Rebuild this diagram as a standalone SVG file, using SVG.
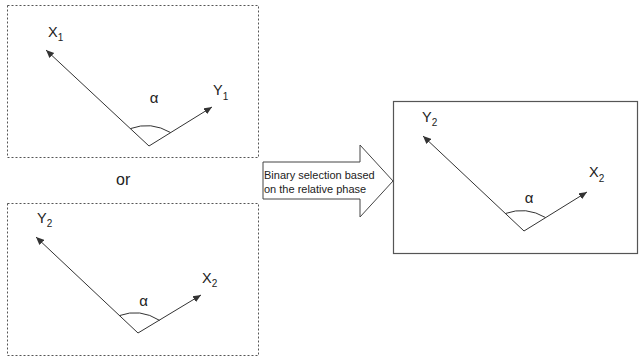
<svg xmlns="http://www.w3.org/2000/svg" width="640" height="360" viewBox="0 0 640 360">
<defs>
<marker id="ah" markerUnits="userSpaceOnUse" markerWidth="10" markerHeight="8" refX="8" refY="4" orient="auto">
<path d="M0,0.5 L8,4 L0,7.5 Z" fill="#333"/>
</marker>
<style>
.dbox{fill:none;stroke:#555;stroke-width:1;stroke-dasharray:2,2}
.sbox{fill:none;stroke:#555;stroke-width:1.2}
.vec{stroke:#333;stroke-width:1;fill:none;marker-end:url(#ah)}
.arc{stroke:#333;stroke-width:1;fill:none}
.lbl{font-family:"Liberation Sans",Arial,sans-serif;font-size:14.5px;fill:#222}
.sub{font-size:10px}
.al{font-family:"Liberation Sans",Arial,sans-serif;font-size:15px;fill:#222;text-anchor:middle}
.bt{font-family:"Liberation Sans",Arial,sans-serif;font-size:11px;fill:#222}
</style>
</defs>
<rect width="640" height="360" fill="#fff"/>
<g id="box1">
<rect class="dbox" x="7.5" y="5.5" width="251" height="152"/>
<line class="vec" x1="149" y1="146" x2="46" y2="50"/>
<line class="vec" x1="149" y1="146" x2="212" y2="107"/>
<path class="arc" d="M130.4,128.6 Q151,121 170.7,132.6"/>
<text class="lbl" x="48" y="37">X<tspan class="sub" dy="4">1</tspan></text>
<text class="lbl" x="213" y="95">Y<tspan class="sub" dy="5">1</tspan></text>
<text class="al" x="154" y="103">α</text>
</g>
<g id="or">
<text class="lbl" x="116" y="185" style="font-size:16px">or</text>
</g>
<g id="box2">
<rect class="dbox" x="7.5" y="203.5" width="251" height="152"/>
<line class="vec" x1="138" y1="333" x2="36" y2="237"/>
<line class="vec" x1="138" y1="333" x2="201" y2="295"/>
<path class="arc" d="M119.4,315.6 Q140,308 159.6,320.4"/>
<text class="lbl" x="37" y="223">Y<tspan class="sub" dy="4">2</tspan></text>
<text class="lbl" x="202" y="283">X<tspan class="sub" dy="4">2</tspan></text>
<text class="al" x="143.5" y="306">α</text>
</g>
<g id="arrow">
<polygon points="263,162 360,162 360,145 393,181 360,217 360,199 263,199" fill="#fff" stroke="#444" stroke-width="1"/>
<text class="bt" x="264" y="179">Binary selection based</text>
<text class="bt" x="264" y="193">on the relative phase</text>
</g>
<g id="box3">
<rect class="sbox" x="393.5" y="101.5" width="244" height="152"/>
<line class="vec" x1="524" y1="231" x2="423" y2="136"/>
<line class="vec" x1="524" y1="231" x2="587" y2="192"/>
<path class="arc" d="M505.4,213.5 Q526,206 545.7,217.6"/>
<text class="lbl" x="422" y="122">Y<tspan class="sub" dy="4">2</tspan></text>
<text class="lbl" x="589" y="177">X<tspan class="sub" dy="5">2</tspan></text>
<text class="al" x="529" y="203">α</text>
</g>
</svg>
